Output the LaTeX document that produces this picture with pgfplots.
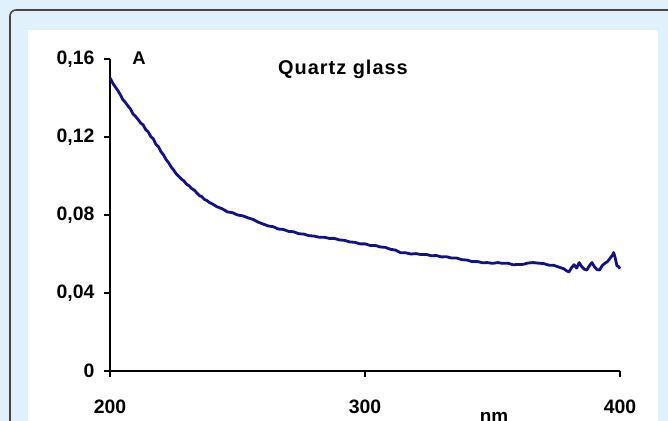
\documentclass[border=0pt]{standalone}
\usepackage{fontspec}
\setmainfont{Liberation Sans}
\newfontfamily\titlefont[LetterSpace=5]{Liberation Sans}
\usepackage{pgfplots}
\pgfplotsset{compat=1.18}
\usepackage{pgfplotstable}
\definecolor{bgblue}{RGB}{225,241,251}
\definecolor{framegray}{RGB}{70,70,70}
\definecolor{curveblue}{RGB}{18,18,130}

\pgfplotstableread{
x y
200 0.1503
201 0.1478
202 0.1458
203 0.1440
204 0.1418
205 0.1392
206 0.1378
207 0.1360
208 0.1344
209 0.1318
210 0.1306
211 0.1290
212 0.1272
213 0.1262
214 0.1238
215 0.1226
216 0.1202
217 0.1190
218 0.1162
219 0.1150
220 0.1124
221 0.1108
222 0.1084
223 0.1068
224 0.1046
225 0.1030
226 0.1010
227 0.0998
228 0.0984
229 0.0975
230 0.0958
231 0.0950
232 0.0936
233 0.0928
234 0.0914
235 0.0900
236 0.0894
237 0.0880
238 0.0874
239 0.0864
240 0.0858
242 0.0842
244 0.0832
246 0.0816
248 0.0812
250 0.0800
252 0.0796
254 0.0786
256 0.0778
258 0.0764
260 0.0754
262 0.0744
264 0.0740
266 0.0728
268 0.0726
270 0.0716
272 0.0714
274 0.0704
276 0.0702
278 0.0694
280 0.0692
282 0.0686
284 0.0686
286 0.0680
288 0.0680
290 0.0672
292 0.0670
294 0.0662
296 0.0660
298 0.0652
300 0.0652
302 0.0644
304 0.0644
306 0.0636
308 0.0634
310 0.0624
312 0.0620
314 0.0606
316 0.0606
318 0.0600
320 0.0602
322 0.0597
324 0.0598
326 0.0591
328 0.0592
330 0.0585
332 0.0586
334 0.0579
336 0.0579
338 0.0571
340 0.0569
342 0.0561
344 0.0562
346 0.0555
348 0.0556
350 0.0552
352 0.0556
354 0.0552
356 0.0553
358 0.0545
360 0.0546
362 0.0547
364 0.0554
366 0.0556
368 0.0553
370 0.0551
372 0.0543
374 0.0542
376 0.0533
378 0.0524
379 0.0514
380 0.0508
381 0.0530
382 0.0545
383 0.0528
384 0.0556
385 0.0535
386 0.0522
387 0.0518
388 0.0540
389 0.0556
390 0.0534
391 0.0520
392 0.0518
393 0.0540
394 0.0552
395 0.0560
396 0.0576
397 0.0594
397.5 0.0607
398 0.0586
398.8 0.0540
399.4 0.0536
400 0.0525
}\quartz

\begin{document}
\begin{tikzpicture}
\useasboundingbox (0,0) rectangle (668bp,421bp);
\clip (0,0) rectangle (668bp,421bp);
\fill[bgblue] (0,0) rectangle (668bp,421bp);
\draw[framegray, line width=1.6bp, fill=bgblue, rounded corners=6bp] (10bp,411bp) rectangle (690bp,-20bp);
\fill[white] (28bp,391bp) rectangle (658bp,-5bp);
\begin{axis}[
  at={(110bp,50bp)}, anchor=south west,
  scale only axis, width=510bp, height=312bp,
  xmin=200, xmax=400, ymin=0, ymax=0.16,
  axis lines=left,
  axis line style={-, line width=1.5bp, black},
  tick align=outside,
  major tick length=6bp,
  tick style={line width=1.5bp, black},
  xtick={200,300,400},
  ytick={0,0.04,0.08,0.12,0.16},
  yticklabels={0,{0,04},{0,08},{0,12},{0,16}},
  xticklabels={200,300,400},
  ticklabel style={font=\fontsize{19.5}{19.5}\selectfont\bfseries},
  xticklabel style={yshift=-19bp},
  yticklabel style={xshift=-6bp},
  clip=false,
]
\addplot[curveblue, line width=2.8bp, line join=round] table[x=x,y=y] {\quartz};
\end{axis}
\node[font=\fontsize{18.5}{18.5}\selectfont\bfseries] at (139bp,363bp) {A};
\node[font=\titlefont\fontsize{20}{20}\selectfont\bfseries] at (343bp,352bp) {Quartz glass};
\node[font=\fontsize{19}{19}\selectfont\bfseries, anchor=base] at (494bp,-1bp) {nm};
\end{tikzpicture}
\end{document}
